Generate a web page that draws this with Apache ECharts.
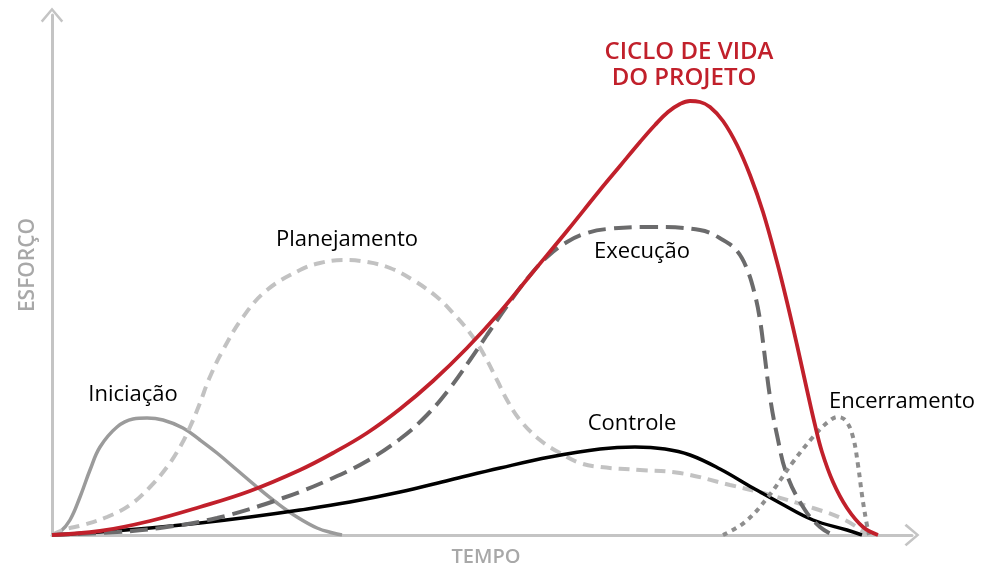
<!DOCTYPE html>
<html>
<head>
<meta charset="utf-8">
<script src="https://cdn.jsdelivr.net/npm/echarts@6/dist/echarts.min.js"></script>
<style>html,body{margin:0;padding:0;background:#fff;}#c{width:985px;height:577px;}</style>
</head>
<body>
<div id="c"></div>
<script>
// Data: [time, effort] in arbitrary units
const iniciacao = [[0,0],[0.8,0.3],[1.8,1.5],[2.8,3.8],[3.8,6.5],[4.8,8.8],[6.5,10.8],[8.1,11.6],[9.5,11.7],[11.1,11.5],[13.1,10.7],[14.8,9.5],[16.5,8.2],[18.5,6.5],[20.5,4.8],[22.5,3.2],[24.5,1.8],[26.5,0.7],[28.1,0.2],[29,0]];
const planejamento = [[0,0],[1.1,0.5],[3.1,1.0],[5.5,1.8],[7.8,3.0],[9.8,4.8],[11.5,6.8],[12.8,8.8],[13.8,10.8],[14.8,13.2],[15.7,15.6],[17.1,18.5],[19.1,21.8],[21.5,24.5],[24.8,26.5],[26.8,27.2],[29.1,27.5],[31.5,27.3],[33.8,26.7],[36.1,25.5],[38.5,23.8],[40.1,22.2],[41.8,20.2],[43.1,18.2],[44.5,15.5],[45.5,13.5],[46.8,11.5],[48.8,9.5],[50.8,8.2],[52.8,7.2],[54.8,6.8],[58.8,6.5],[62.8,6.2],[67.8,5.0],[71.1,4.2],[76.1,2.7],[79.3,1.5],[81.6,0]];
const execucao = [[0,0],[6.5,0.3],[10.8,0.7],[16.5,1.7],[23.1,3.7],[28.1,5.7],[31.5,7.4],[34.8,9.6],[37.5,12.0],[39.8,14.7],[41.8,17.5],[43.5,20.0],[45.5,22.9],[47.5,25.6],[49.5,27.8],[51.5,29.3],[53.5,30.2],[55.5,30.6],[59.8,30.8],[64.8,30.5],[67.1,29.5],[68.5,28.4],[69.5,26.6],[70.3,24.0],[70.8,21.5],[71.2,18.5],[71.8,13.8],[72.5,10.0],[73.5,6.0],[75.3,2.5],[76.8,0.8],[78.1,0]];
const controle = [[0,0],[4.8,0.3],[9.8,0.7],[14.8,1.2],[19.8,1.8],[24.8,2.5],[29.8,3.3],[34.8,4.3],[39.8,5.5],[44.8,6.7],[49.8,7.8],[54.8,8.6],[58.3,8.8],[61.3,8.6],[63.8,8.0],[66.8,6.6],[70.1,4.7],[72.8,3.2],[76.1,1.5],[79.5,0.5],[81,0]];
const encerramento = [[67.1,0],[69.3,1.3],[71.6,3.8],[74.1,7.3],[76.1,9.8],[77.6,11.3],[78.6,11.8],[79.4,11.4],[80.1,9.8],[80.6,7.0],[81.0,4.0],[81.4,1.5],[81.7,0]];
const cicloDeVida = [[0,0],[4.8,0.4],[9.8,1.4],[14.8,2.8],[19.8,4.4],[24.8,6.5],[28.1,8.2],[31.5,10.2],[34.8,12.6],[38.1,15.4],[41.5,18.7],[44.8,22.3],[48.1,26.3],[51.5,30.4],[54.8,34.5],[56.8,36.9],[58.8,39.3],[60.3,41.0],[61.6,42.3],[62.8,43.1],[63.8,43.4],[64.8,43.3],[65.8,42.8],[67.1,41.4],[68.5,39.0],[69.8,36.0],[71.1,32.3],[72.5,27.3],[73.5,23.3],[74.5,19.0],[75.5,14.5],[76.3,11.0],[77.0,8.3],[78.1,5.3],[79.5,2.7],[81.1,0.8],[82.6,0]];

const axisTitles = { x: 'TEMPO', y: 'ESFORÇO' };
const phaseLabels = ['Iniciação','Planejamento','Execução','Controle','Encerramento'];
const mainTitle = ['CICLO DE VIDA','DO PROJETO'];

const FONT = 'Open Sans';
const chevron = 'path://M0,14 L12,0 L24,14 L22,16 L12,4 L2,16 Z';
const axisColor = '#c4c4c4';

const chart = echarts.init(document.getElementById('c'));

function line(name, data, color, width, type, z) {
  return {
    name, type: 'line', data, smooth: 0.4, symbol: 'none', z: z,
    lineStyle: { color, width, type, cap: 'butt' },
    silent: true, animation: false
  };
}
function label(text, x, y, font, fill) {
  return { type: 'text', x, y, style: { text, fill, font, textAlign: 'center', textVerticalAlign: 'middle' } };
}
const lf = '22px "' + FONT + '"';
const tf = '600 24px "' + FONT + '"';

chart.setOption({
  animation: false,
  grid: { left: 52, right: 73, top: 15, bottom: 42 },
  xAxis: {
    type: 'value', min: 0, max: 86,
    axisLine: { show: true, lineStyle: { color: axisColor, width: 3 }, symbol: ['none', chevron], symbolSize: [24, 15] },
    axisTick: { show: false }, axisLabel: { show: false }, splitLine: { show: false },
    name: axisTitles.x, nameLocation: 'middle', nameGap: 12,
    nameTextStyle: { color: '#a8a8a8', fontFamily: FONT, fontSize: 20, fontWeight: 600, verticalAlign: 'top', padding: [0, 0, 0, 8] }
  },
  yAxis: {
    type: 'value', min: 0, max: 52,
    axisLine: { show: true, lineStyle: { color: axisColor, width: 3 }, symbol: ['none', chevron], symbolSize: [24, 15] },
    axisTick: { show: false }, axisLabel: { show: false }, splitLine: { show: false },
    name: axisTitles.y, nameLocation: 'middle', nameGap: 13, nameRotate: 90,
    nameTextStyle: { color: '#a8a8a8', fontFamily: FONT, fontSize: 21, fontWeight: 600, padding: [0, 0, 0, 20] }
  },
  series: [
    line('Iniciação', iniciacao, '#9b9b9b', 3.5, 'solid', 2),
    line('Planejamento', planejamento, '#c2c2c2', 4, [11, 7], 2),
    line('Controle', controle, '#000000', 3.5, 'solid', 3),
    line('Execução', execucao, '#6b6b6c', 4, [18, 8], 4),
    line('Encerramento', encerramento, '#8e8e8e', 4, [5, 5], 4),
    line('Ciclo de vida do projeto', cicloDeVida, '#c1202b', 3.8, 'solid', 5)
  ],
  graphic: [
    label(mainTitle[0], 689, 52, tf, '#c1202b'),
    label(mainTitle[1], 684, 78, tf, '#c1202b'),
    label(phaseLabels[0], 133, 395, lf, '#000'),
    label(phaseLabels[1], 347, 240, lf, '#000'),
    label(phaseLabels[2], 642, 252, lf, '#000'),
    label(phaseLabels[3], 632, 424, lf, '#000'),
    label(phaseLabels[4], 902, 402, lf, '#000')
  ]
});
</script>
</body>
</html>
